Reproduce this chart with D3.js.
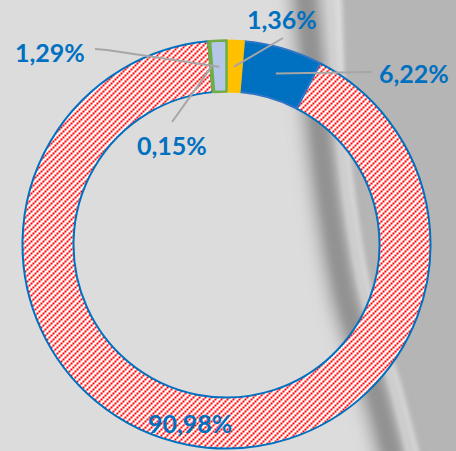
<!DOCTYPE html>
<html>
<head>
<meta charset="utf-8">
<script src="https://cdn.jsdelivr.net/npm/d3@7"></script>
<style>
  html, body { margin: 0; padding: 0; background: #dcdcdc; }
  svg { display: block; }
</style>
</head>
<body>
<script>
// ---- data ----
const categories = ["A", "B", "C", "D", "E"];
const values = [1.36, 6.22, 90.98, 0.15, 1.29];
const labels = ["1,36%", "6,22%", "90,98%", "0,15%", "1,29%"];
const fills = ["#ffc000", "#0070c0", "url(#hatch)", "#70ad47", "#b4c7e7"];
const strokes = ["#ffc000", "#2e75c6", "#0070c0", "#70ad47", "#70ad47"];

// label placement (text start x, baseline y) and leader knees
const labelPos = [[247, 29], [379, 83], [148, 433], [137, 155], [15, 62]];
const leaderPts = [[[283, 38]], [[372, 72]], null, [[172, 122]], [[107, 50], [95, 49]]];

const W = 456, H = 451;
const cx = 226.5, cy = 244.5, R = 204, r = 153;

const svg = d3.select("body").append("svg").attr("width", W).attr("height", H);
const defs = svg.append("defs");

// hatch pattern: red up-diagonal lines of stepped dots on white (pixel aligned)
const pat = defs.append("pattern").attr("id", "hatch")
  .attr("patternUnits", "userSpaceOnUse")
  .attr("x", 0).attr("y", 0)
  .attr("width", 6).attr("height", 6);
pat.append("rect").attr("width", 6).attr("height", 6).attr("fill", "#ffffff");
[[4, 0], [2, 2], [0, 4]].forEach(([x, y]) =>
  pat.append("rect").attr("x", x).attr("y", y).attr("width", 2).attr("height", 2)
    .attr("fill", "#ff0000").attr("shape-rendering", "crispEdges"));

// blur filters for background streak
defs.append("filter").attr("id", "blurBig").attr("x", "-50%").attr("y", "-10%").attr("width", "200%").attr("height", "120%")
  .append("feGaussianBlur").attr("stdDeviation", 9);
defs.append("filter").attr("id", "blurMid").attr("x", "-50%").attr("y", "-10%").attr("width", "200%").attr("height", "120%")
  .append("feGaussianBlur").attr("stdDeviation", 4);
defs.append("filter").attr("id", "blurSm").attr("x", "-50%").attr("y", "-10%").attr("width", "200%").attr("height", "120%")
  .append("feGaussianBlur").attr("stdDeviation", 2);

// ---- background ----
const bg = svg.append("g");
bg.append("rect").attr("width", W).attr("height", H).attr("fill", "#dcdcdc");
const line = d3.line().curve(d3.curveCatmullRom);
const edge = [[340, -20], [342, 0], [346, 100], [356, 200], [374, 300], [400, 380], [424, 470]];
bg.append("path")
  .attr("d", line(edge) + `L480,470L480,-20Z`)
  .attr("fill", "#b5b5b5").attr("filter", "url(#blurSm)");
const dark = [[304, -20], [306, 0], [316, 100], [328, 200], [346, 300], [372, 380], [396, 470]];
bg.append("path").attr("d", line(dark)).attr("fill", "none")
  .attr("stroke", "#8c8c8c").attr("stroke-width", 26).attr("filter", "url(#blurBig)");
bg.append("path").attr("d", line(dark)).attr("fill", "none")
  .attr("stroke", "#919191").attr("stroke-width", 10).attr("filter", "url(#blurMid)");
const hi = [[330, -20], [331, 0], [336, 100], [346, 200], [364, 300], [390, 380], [413, 470]];
bg.append("path").attr("d", line(hi)).attr("fill", "none")
  .attr("stroke", "#d0d0d0").attr("stroke-width", 5).attr("filter", "url(#blurSm)");

// ---- donut ----
const pie = d3.pie().sort(null).value(d => d)(values);
const arc = d3.arc().innerRadius(r).outerRadius(R);
const mid = d3.arc().innerRadius(178).outerRadius(178);

const g = svg.append("g").attr("transform", `translate(${cx},${cy})`);
const drawOrder = [2, 1, 0, 3, 4];
g.selectAll("path.slice").data(drawOrder.map(i => pie[i])).join("path")
  .attr("class", "slice")
  .attr("d", arc)
  .attr("fill", d => fills[d.index])
  .attr("stroke", d => strokes[d.index])
  .attr("stroke-width", d => d.index === 4 ? 2.5 : 2)
  .attr("stroke-linejoin", "round");

// ---- leader lines ----
const lg = svg.append("g");
pie.forEach((d, i) => {
  if (!leaderPts[i]) return;
  const c = mid.centroid(d);
  const pts = [[cx + c[0], cy + c[1]], ...leaderPts[i]];
  lg.append("path").attr("d", d3.line()(pts))
    .attr("fill", "none").attr("stroke", "#a6a6a6").attr("stroke-width", 2);
});

// ---- labels ----
svg.append("g").selectAll("text").data(labels).join("text")
  .attr("x", (d, i) => labelPos[i][0])
  .attr("y", (d, i) => labelPos[i][1])
  .attr("font-family", "Lato, 'Open Sans', sans-serif")
  .attr("font-weight", 700)
  .attr("font-size", 25)
  .attr("fill", "#0070c0")
  .text(d => d);
</script>
</body>
</html>
